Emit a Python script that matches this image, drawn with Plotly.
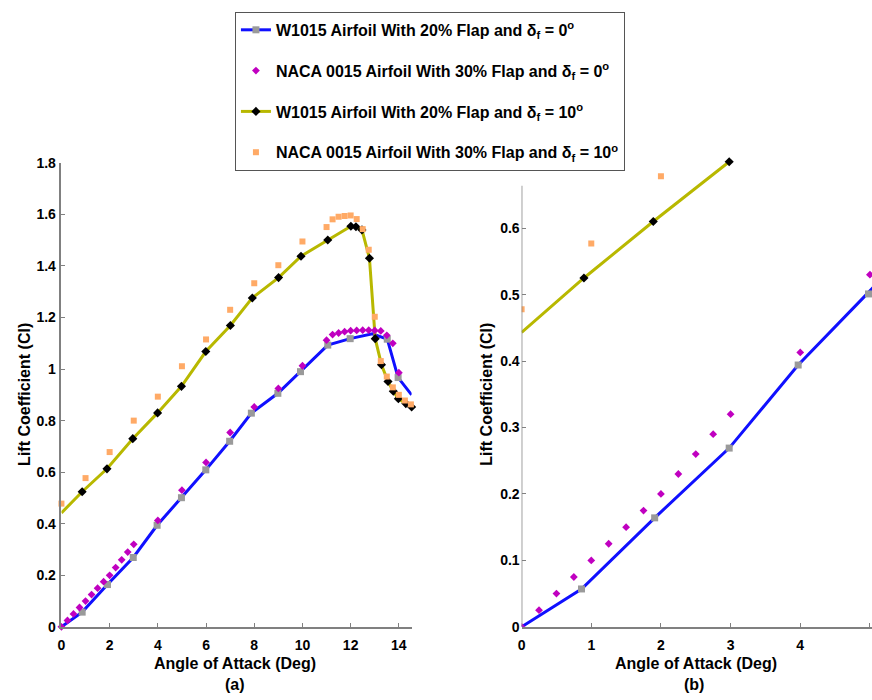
import plotly.graph_objects as go

# ---------------- data ----------------
# W1015 airfoil, 20% flap, delta_f = 0 (blue line, gray squares)
w0_line_x = [0, 0.86, 1.91, 2.98, 3.97, 4.98, 5.99, 6.98, 7.88, 8.98, 9.92, 11.05, 11.98, 12.9, 13.52, 13.97, 14.53]
w0_line_y = [0, 0.057, 0.164, 0.269, 0.394, 0.501, 0.609, 0.72, 0.829, 0.906, 0.99, 1.093, 1.118, 1.137, 1.116, 0.967, 0.9]
w0_mark_x = [0.86, 1.91, 2.98, 3.97, 4.98, 5.99, 6.98, 7.88, 8.98, 9.92, 11.05, 11.98, 13.52, 13.97]
w0_mark_y = [0.057, 0.164, 0.269, 0.394, 0.501, 0.609, 0.72, 0.829, 0.906, 0.99, 1.093, 1.118, 1.116, 0.967]

# NACA 0015 airfoil, 30% flap, delta_f = 0 (magenta diamonds)
n0_x = [0, 0.25, 0.5, 0.75, 1, 1.25, 1.5, 1.75, 2, 2.25, 2.5, 2.75, 3, 4, 5, 6, 7, 8, 9, 10, 11,
        11.25, 11.5, 11.75, 12, 12.25, 12.5, 12.75, 13, 13.25, 13.5, 13.75, 14]
n0_y = [0, 0.025, 0.05, 0.075, 0.1, 0.125, 0.15, 0.175, 0.2, 0.23, 0.26, 0.29, 0.32, 0.413, 0.53,
        0.638, 0.754, 0.853, 0.925, 1.013, 1.112,
        1.134, 1.14, 1.145, 1.149, 1.15, 1.151, 1.151, 1.15, 1.148, 1.131, 1.10, 0.986]

# W1015 airfoil, 20% flap, delta_f = 10 (olive line, black diamonds)
w10_line_x = [0, 0.86, 1.89, 2.96, 3.99, 4.98, 5.99, 7.01, 7.92, 9.01, 9.94, 11.05, 12.01, 12.22, 12.47,
              12.78, 13.02, 13.28, 13.55, 13.77, 13.98, 14.29, 14.53]
w10_line_y = [0.442, 0.524, 0.613, 0.73, 0.83, 0.933, 1.068, 1.169, 1.276, 1.355, 1.438, 1.501, 1.554, 1.552,
              1.54, 1.43, 1.118, 1.017, 0.952, 0.914, 0.885, 0.866, 0.853]
w10_mark_x = w10_line_x[1:]
w10_mark_y = w10_line_y[1:]

# panel (b) reading of the delta_f = 10 W1015 curve
w10b_line_x = [0, 0.895, 1.89, 2.98]
w10b_line_y = [0.443, 0.525, 0.61, 0.70]
w10b_mark_x = [0.895, 1.89, 2.98]
w10b_mark_y = [0.525, 0.61, 0.70]

# NACA 0015 airfoil, 30% flap, delta_f = 10 (orange squares)
n10_x = [0, 1, 2, 3, 4, 5, 6, 7, 8, 9, 10, 11,
         11.25, 11.5, 11.75, 12, 12.25, 12.5, 12.75, 13, 13.25, 13.5, 13.75, 14, 14.25, 14.5]
n10_y = [0.478, 0.577, 0.678, 0.8, 0.893, 1.011, 1.115, 1.23, 1.333, 1.403, 1.495, 1.551,
         1.581, 1.591, 1.594, 1.596, 1.582, 1.543, 1.463, 1.203, 1.031, 0.971, 0.929, 0.9, 0.878, 0.863]

names = [
    "W1015 Airfoil With 20% Flap and δ<sub>f</sub> = 0<sup>o</sup>",
    "NACA 0015 Airfoil With 30% Flap and δ<sub>f</sub> = 0<sup>o</sup>",
    "W1015 Airfoil With 20% Flap and δ<sub>f</sub> = 10<sup>o</sup>",
    "NACA 0015 Airfoil With 30% Flap and δ<sub>f</sub> = 10<sup>o</sup>",
]

# ---------------- styles ----------------
BLUE = "#1010ff"
OLIVE = "#b8b800"
GRAY = "#9a9a9a"
MAGENTA = "#c000c0"
ORANGE = "#ffaa66"
AX = "#808080"
FONT = "Liberation Sans, Arial, sans-serif"

fig = go.Figure()


def add_panel(xa, ya, w10lx, w10ly, w10mx, w10my):
    fig.add_trace(go.Scatter(x=w0_line_x, y=w0_line_y, mode="lines", line=dict(color=BLUE, width=3),
                             xaxis=xa, yaxis=ya, showlegend=False, hoverinfo="skip"))
    fig.add_trace(go.Scatter(x=w0_mark_x, y=w0_mark_y, mode="markers",
                             marker=dict(symbol="square", size=7, color=GRAY),
                             xaxis=xa, yaxis=ya, showlegend=False, cliponaxis=False))
    fig.add_trace(go.Scatter(x=w10lx, y=w10ly, mode="lines", line=dict(color=OLIVE, width=3),
                             xaxis=xa, yaxis=ya, showlegend=False, hoverinfo="skip"))
    fig.add_trace(go.Scatter(x=w10mx, y=w10my, mode="markers",
                             marker=dict(symbol="diamond", size=7, color="black"),
                             xaxis=xa, yaxis=ya, showlegend=False, cliponaxis=(xa == "x2")))
    fig.add_trace(go.Scatter(x=n0_x, y=n0_y, mode="markers",
                             marker=dict(symbol="diamond", size=6, color=MAGENTA),
                             xaxis=xa, yaxis=ya, showlegend=False, cliponaxis=(xa == "x2")))
    fig.add_trace(go.Scatter(x=n10_x, y=n10_y, mode="markers",
                             marker=dict(symbol="square", size=6, color=ORANGE),
                             xaxis=xa, yaxis=ya, showlegend=False, cliponaxis=(xa == "x2")))


add_panel("x", "y", w10_line_x, w10_line_y, w10_mark_x, w10_mark_y)
add_panel("x2", "y2", w10b_line_x, w10b_line_y, w10b_mark_x, w10b_mark_y)

# legend-only entries
fig.add_trace(go.Scatter(x=[None], y=[None], mode="lines+markers", name=names[0], legendgroup="a",
                         line=dict(color=BLUE, width=3), marker=dict(symbol="square", size=7, color=GRAY)))
fig.add_trace(go.Scatter(x=[None], y=[None], mode="markers", name=names[1], legendgroup="b",
                         marker=dict(symbol="diamond", size=6, color=MAGENTA)))
fig.add_trace(go.Scatter(x=[None], y=[None], mode="lines+markers", name=names[2], legendgroup="c",
                         line=dict(color=OLIVE, width=3), marker=dict(symbol="diamond", size=7, color="black")))
fig.add_trace(go.Scatter(x=[None], y=[None], mode="markers", name=names[3], legendgroup="d",
                         marker=dict(symbol="square", size=6, color=ORANGE)))

W, H = 872, 700


def fx(px):
    return px / W


def fy(py):
    return 1 - py / H


axis_common = dict(showgrid=False, zeroline=False, ticks="inside", ticklen=4, tickwidth=1.2,
                   tickcolor=AX, linecolor=AX, linewidth=1.5,
                   tickfont=dict(family=FONT, size=14, color="black", weight="bold"))

fig.update_layout(
    width=W, height=H, autosize=False,
    margin=dict(l=0, r=0, t=0, b=0),
    paper_bgcolor="white", plot_bgcolor="white",
    font=dict(family=FONT, color="black"),
    xaxis=dict(domain=[fx(57.7), fx(409.5)], range=[0, 14.53], tickvals=[0, 2, 4, 6, 8, 10, 12, 14],
               anchor="y", showline=True, ticklabelstandoff=5, **axis_common),
    yaxis=dict(domain=[fy(633.3), fy(158.5)], range=[0, 1.8],
               tickvals=[0, 0.2, 0.4, 0.6, 0.8, 1, 1.2, 1.4, 1.6, 1.8],
               ticktext=["0", "0.2", "0.4", "0.6", "0.8", "1", "1.2", "1.4", "1.6", "1.8"],
               anchor="x", showline=True, ticklabelstandoff=1, **axis_common),
    xaxis2=dict(domain=[fx(520), 1.0], range=[0, 5.03], tickvals=[0, 1, 2, 3, 4, 5],
                anchor="y2", showline=True, ticklabelstandoff=5, **axis_common),
    yaxis2=dict(domain=[fy(633.3), fy(633.3 - 0.72 * 680)], range=[0, 0.72],
                tickvals=[0, 0.1, 0.2, 0.3, 0.4, 0.5, 0.6],
                ticktext=["0", "0.1", "0.2", "0.3", "0.4", "0.5", "0.6"],
                anchor="x2", showline=False, ticklabelstandoff=1, **axis_common),
    legend=dict(x=fx(232), y=fy(4), xanchor="left", yanchor="top",
                bgcolor="white", bordercolor="#555555", borderwidth=1,
                font=dict(family=FONT, size=16, color="black", weight="bold"),
                tracegroupgap=17, itemwidth=30),
    showlegend=True,
)

# y axis line of panel (b) (stops below the top of the data)
fig.add_shape(type="line", xref="x2", yref="y2", x0=0, x1=0, y0=0, y1=0.664,
              line=dict(color=AX, width=1.5), layer="above")

title_font = dict(family=FONT, size=16, color="black", weight="bold")
annots = [
    ("Angle of Attack (Deg)", 231.7, 671, 0),
    ("(a)", 232, 692, 0),
    ("Angle of Attack (Deg)", 695, 671, 0),
    ("(b)", 693, 692, 0),
    ("Lift Coefficient (Cl)", 21, 395, -90),
    ("Lift Coefficient (Cl)", 485, 395, -90),
]
for text, px, py, ang in annots:
    fig.add_annotation(text=text, xref="paper", yref="paper", x=fx(px), y=fy(py),
                       xanchor="center", yanchor="middle", showarrow=False,
                       textangle=ang, font=title_font)

fig.write_html("out.html")
